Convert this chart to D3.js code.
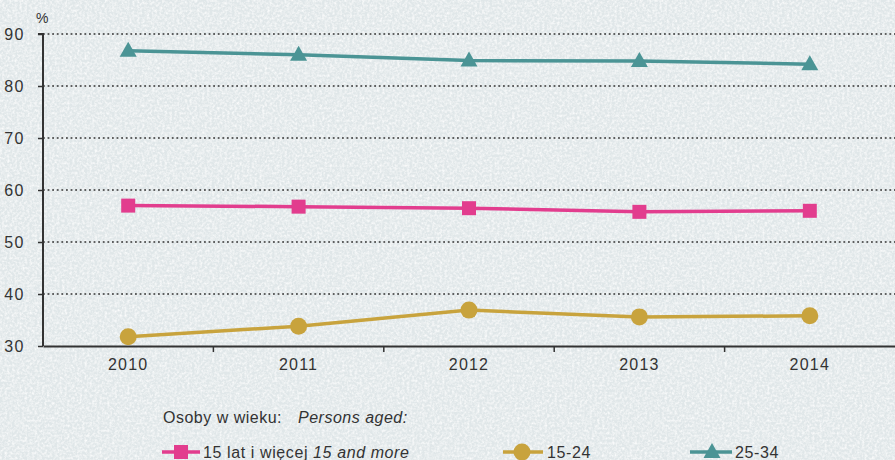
<!DOCTYPE html>
<html><head><meta charset="utf-8">
<script src="https://cdn.jsdelivr.net/npm/d3@7/dist/d3.min.js"></script>
<style>html,body{margin:0;padding:0;background:#e3e9eb;}svg{display:block;}text{font-family:"Liberation Sans",Arial,sans-serif;fill:#333;}</style>
</head><body><svg id="c" width="895" height="460"></svg>
<script>
const years = ["2010","2011","2012","2013","2014"];
const all15 = [57.0, 56.8, 56.5, 55.8, 56.0];
const age1524 = [31.8, 33.8, 36.9, 35.6, 35.8];
const age2534 = [86.8, 86.0, 84.9, 84.8, 84.2];
const yTicks = [30,40,50,60,70,80,90];
const seriesNames = ["15 lat i więcej", "15-24", "25-34"];

const svg = d3.select("#c");
const W = 895, H = 460;
const m = {l:43, r:0, t:34, b:114};

// background with paper texture
const defs = svg.append("defs");
const f = defs.append("filter").attr("id","paper").attr("x",0).attr("y",0).attr("width","100%").attr("height","100%");
f.append("feTurbulence").attr("type","fractalNoise").attr("baseFrequency","0.4").attr("numOctaves",3).attr("seed",4).attr("result","n");
f.append("feColorMatrix").attr("in","n").attr("type","matrix")
 .attr("values","0 0 0 0 1  0 0 0 0 1  0 0 0 0 1  0 0 0 -1.8 1.15").attr("result","w");
f.append("feComposite").attr("in","w").attr("in2","SourceGraphic").attr("operator","over");
svg.append("rect").attr("width",W).attr("height",H).attr("fill","#e0e7e9");
svg.append("rect").attr("width",W).attr("height",H).attr("fill","#e0e7e9").attr("filter","url(#paper)").attr("opacity",0.9);

const x = d3.scaleBand().domain(years).range([m.l, W]);
const y = d3.scaleLinear().domain([30,90]).range([346, 34]);

// gridlines
svg.append("g").selectAll("line").data(yTicks.filter(d=>d>30)).join("line")
  .attr("x1",m.l).attr("x2",W).attr("y1",d=>y(d)).attr("y2",d=>y(d))
  .attr("stroke","#333").attr("stroke-width",1.7).attr("stroke-dasharray","1.8,2.8");

// y axis
const ya = svg.append("g").attr("transform",`translate(${m.l},0)`)
  .call(d3.axisLeft(y).tickValues(yTicks).tickSize(5).tickPadding(13));
ya.select(".domain").attr("stroke","#333").attr("stroke-width",2).attr("d",`M-5,${y(90)}H0V${y(30)}`);
ya.selectAll(".tick line").attr("stroke","#333").attr("stroke-width",1.5);
ya.selectAll("text").style("font-size","16px").style("fill","#333").attr("letter-spacing","1.5");

// x axis
const xa = svg.append("g").attr("transform",`translate(0,${y(30)})`)
  .call(d3.axisBottom(x).tickSize(0).tickPadding(13));
xa.select(".domain").attr("stroke","#333").attr("stroke-width",2);
xa.selectAll("text").style("font-size","16px").style("fill","#333").attr("letter-spacing","1.2");
svg.append("g").selectAll("line").data(years.slice(1)).join("line")
  .attr("x1",d=>x(d)).attr("x2",d=>x(d)).attr("y1",y(30)).attr("y2",y(30)+6)
  .attr("stroke","#333").attr("stroke-width",1.5);

svg.append("text").attr("x",36).attr("y",23).style("font-size","14px").text("%");

const cx = d => x(d) + x.bandwidth()/2;
const series = [
  {vals: all15, color:"#e23d8e", shape:"square"},
  {vals: age1524, color:"#c8a33d", shape:"circle"},
  {vals: age2534, color:"#4b9495", shape:"triangle"}
];
function marker(g, shape, color, px, py){
  if(shape==="square") g.append("rect").attr("x",px-7).attr("y",py-7).attr("width",14).attr("height",14).attr("fill",color);
  else if(shape==="circle") g.append("circle").attr("cx",px).attr("cy",py).attr("r",8.5).attr("fill",color);
  else g.append("path").attr("d",`M${px},${py-9}L${px+8.5},${py+6}L${px-8.5},${py+6}Z`).attr("fill",color);
}
const line = d3.line().x((d,i)=>cx(years[i])).y(d=>y(d));
series.forEach(s=>{
  const g = svg.append("g");
  g.append("path").attr("d",line(s.vals)).attr("fill","none").attr("stroke",s.color).attr("stroke-width",3.5);
  s.vals.forEach((v,i)=>marker(g,s.shape,s.color,cx(years[i]),y(v)));
});

// legend
const lg = svg.append("g");
const t1 = lg.append("text").attr("x",163).attr("y",423).style("font-size","16px").attr("letter-spacing","0.5");
t1.append("tspan").text("Osoby w wieku:");
t1.append("tspan").attr("x",298).style("font-style","italic").text("Persons aged:");
const items = [
  {x0:162, x1:200, mx:181, tx:203, s:series[0], label:seriesNames[0], en:"15 and more"},
  {x0:503, x1:543, mx:522, tx:547, s:series[1], label:seriesNames[1]},
  {x0:690, x1:732, mx:712, tx:735, s:series[2], label:seriesNames[2]}
];
const ly = 452;
items.forEach(it=>{
  lg.append("line").attr("x1",it.x0).attr("x2",it.x1).attr("y1",ly).attr("y2",ly).attr("stroke",it.s.color).attr("stroke-width",3.5);
  marker(lg,it.s.shape,it.s.color,it.mx,ly);
  const t = lg.append("text").attr("x",it.tx).attr("y",ly+6).style("font-size","16px").attr("letter-spacing","0.6").text(it.label);
  if(it.en) t.append("tspan").style("font-style","italic").text(" "+it.en);
});
</script></body></html>
